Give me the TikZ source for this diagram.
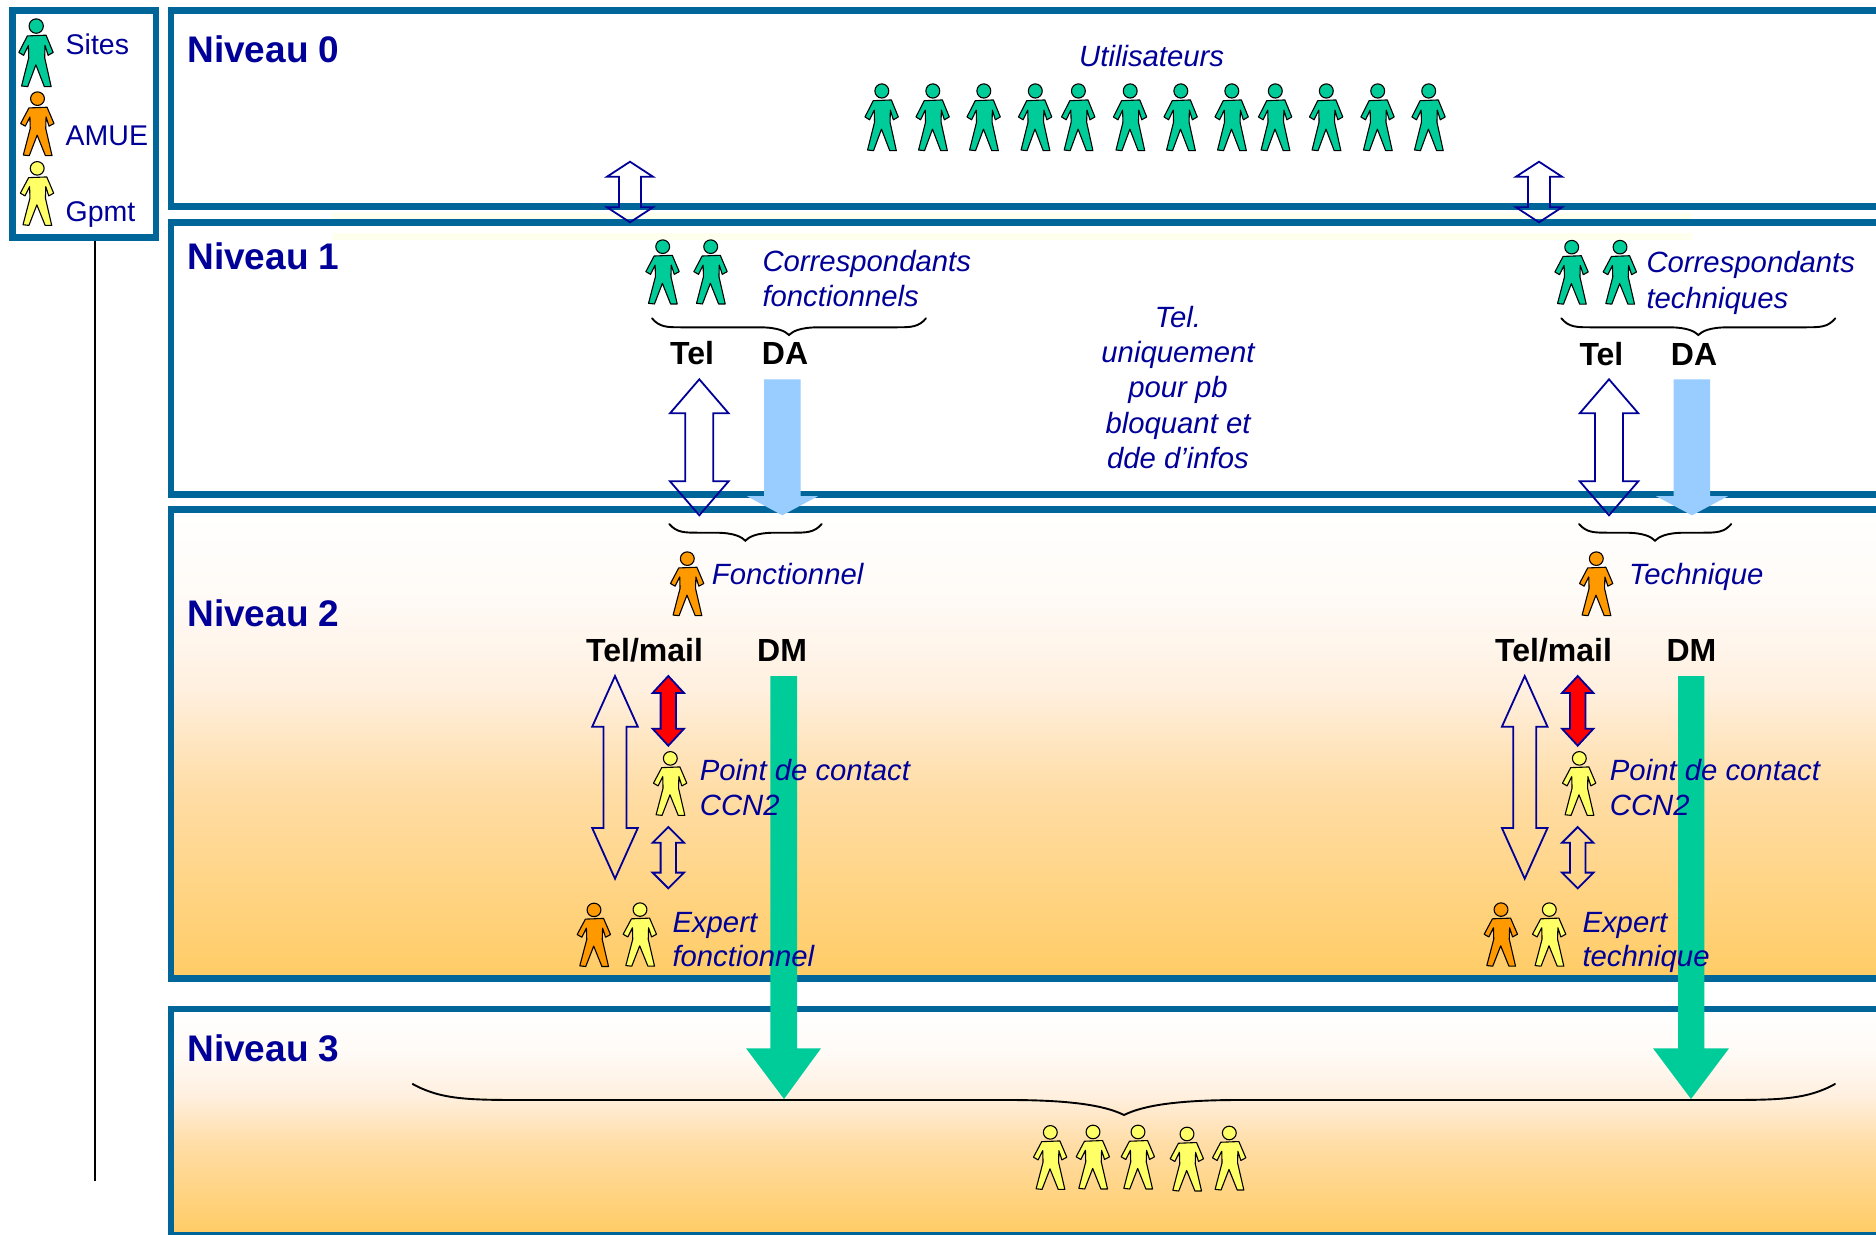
\documentclass[tikz,border=0pt]{standalone}
\usepackage{fontspec}
\setmainfont{Liberation Sans}
\definecolor{frame}{HTML}{006699}
\definecolor{navy}{HTML}{000099}
\definecolor{pgreen}{HTML}{00CC99}
\definecolor{porange}{HTML}{FF9900}
\definecolor{pyellow}{HTML}{FFFF66}
\definecolor{dablue}{HTML}{99CCFF}
\definecolor{ivory}{HTML}{FFFFEE}
\pgfdeclareverticalshading{lvlshade}{100bp}{rgb(0bp)=(1,0.8,0.4); rgb(25bp)=(1,0.8,0.4); rgb(45bp)=(1,0.866,0.65); rgb(56bp)=(1,0.94,0.875); rgb(65bp)=(1,0.98,0.96); rgb(75bp)=(1,1,1); rgb(100bp)=(1,1,1)}
\tikzset{
  panel/.style={draw=frame,line width=6.8pt},
  lvltitle/.style={anchor=base west,inner sep=0pt,text=navy,font=\fontsize{37}{44}\selectfont\bfseries},
  note/.style={anchor=base west,inner sep=0pt,text=navy,font=\fontsize{29.3}{35}\selectfont\itshape},
  legendtext/.style={anchor=base west,inner sep=0pt,text=navy,font=\fontsize{28.5}{35}\selectfont},
  channel/.style={anchor=base west,inner sep=0pt,text=black,font=\fontsize{32}{38}\selectfont\bfseries},
  hollowarrow/.style={draw=navy,line width=1.8pt,line join=miter},
  redarrow/.style={draw=navy,fill=red,line width=1.8pt,line join=miter},
  bracestroke/.style={draw=black,line width=1.9pt,line cap=round},
  figstroke/.style={draw=black,line width=1.1pt,line join=round}
}
% centre x of head, top y, width, height, colour
\newcommand{\person}[5]{%
  \begin{scope}[shift={(#1,#2)},xscale=#3,yscale=#4]
    \filldraw[figstroke,fill=#5] (0,.104) ellipse [x radius=.21,y radius=.106];
    \filldraw[figstroke,fill=#5] (-.26,.249) -- (.29,.238) -- (.5,.492) -- (.35,.534) -- (.26,.39) -- (.25,.57) -- (.44,.995) -- (.24,.995) -- (-.01,.674) -- (-.25,.995) -- (-.43,.985) -- (-.22,.57) -- (-.23,.39) -- (-.37,.534) -- (-.51,.492) -- cycle;
  \end{scope}}
% style, x, top, bottom, head half width, shaft half width, head length
\newcommand{\dblarrow}[7]{%
  \draw[#1] (#2,#3) -- ({#2+#5},{#3+#7}) -- ({#2+#6},{#3+#7}) -- ({#2+#6},{#4-#7}) -- ({#2+#5},{#4-#7}) -- (#2,#4) -- ({#2-#5},{#4-#7}) -- ({#2-#6},{#4-#7}) -- ({#2-#6},{#3+#7}) -- ({#2-#5},{#3+#7}) -- cycle;}
% colour, shaft left, shaft right, top, head y, head left, head right, tip x, tip y
\newcommand{\bigdown}[9]{%
  \fill[#1] (#2,#4) -- (#3,#4) -- (#3,#5) -- (#7,#5) -- (#8,#9) -- (#6,#5) -- (#2,#5) -- cycle;}
% left, right, tip x, y top, y mid, y tip, run
\newcommand{\curlybrace}[7]{%
  \draw[bracestroke] (#1,#4) .. controls ({#1+.25*#7},#5) and ({#1+.5*#7},#5) .. ({#1+#7},#5) -- ({#3-#7},#5) .. controls ({#3-.35*#7},#5) and ({#3-.12*#7},{#6-.45*(#6-#5)}) .. (#3,#6) .. controls ({#3+.12*#7},{#6-.45*(#6-#5)}) and ({#3+.35*#7},#5) .. ({#3+#7},#5) -- ({#2-#7},#5) .. controls ({#2-.5*#7},#5) and ({#2-.25*#7},#5) .. (#2,#4);}
\begin{document}
\begin{tikzpicture}[x=1pt,y=-1pt]
\useasboundingbox (0,0) rectangle (1876,1234);
\clip (0,0) rectangle (1876,1234);
\fill[white] (0,0) rectangle (1876,1234);
% backgrounds
\fill[ivory] (332,213) rectangle (1692,240);
\fill[white] (171,226) rectangle (1900,233);
\shade[shading=lvlshade] (171,513) rectangle (1900,975);
\shade[shading=lvlshade] (171,1012) rectangle (1900,1232);
% frames
\draw[panel] (12.5,10.8) rectangle (156,237.3);
\draw[panel] (1900,10.3) -- (171,10.3) -- (171,206.8) -- (1900,206.8);
\draw[panel] (1900,222.7) -- (171,222.7) -- (171,494.7) -- (1900,494.7);
\draw[panel] (1900,509.5) -- (171,509.5) -- (171,978.5) -- (1900,978.5);
\draw[panel] (1900,1009) -- (171,1009) -- (171,1235.5) -- (1900,1235.5);
\draw[black,line width=1.7pt] (95.3,240.7) -- (95.3,1180.7);
% level titles
\node[lvltitle] (n0) at (187.2,62) {Niveau 0};
\node[lvltitle] (n1) at (187.2,269.3) {Niveau 1};
\node[lvltitle] (n2) at (187.2,626) {Niveau 2};
\node[lvltitle] (n3) at (187.2,1061.5) {Niveau 3};
% legend
\person{36.2}{19}{34}{68}{pgreen}
\person{37.5}{92}{33}{64}{porange}
\person{37.2}{161.7}{33}{64}{pyellow}
\node[legendtext] (lsites) at (65.5,54.7) {Sites};
\node[legendtext] (lamue) at (65.5,145.3) {AMUE};
\node[legendtext] (lgpmt) at (65.5,221) {Gpmt};
% big filled arrows
\bigdown{dablue}{764}{800.7}{379.3}{496}{746.7}{818.3}{782.3}{515.3}
\bigdown{dablue}{1673.7}{1710}{379.3}{496}{1655.7}{1728.3}{1692}{515.3}
\bigdown{pgreen}{770.3}{797}{676}{1048.3}{746}{821}{784}{1099}
\bigdown{pgreen}{1678}{1704.3}{676}{1048.3}{1653}{1729}{1691}{1099}
% double arrows
\dblarrow{hollowarrow}{630}{161.7}{222.3}{23}{11}{15}
\dblarrow{hollowarrow}{1539}{161.7}{222.3}{23}{11}{15}
\dblarrow{hollowarrow}{699.3}{379.3}{515.3}{29.3}{14}{34}
\dblarrow{hollowarrow}{1609}{379.3}{515.3}{29.3}{14}{34}
\dblarrow{hollowarrow}{615}{676}{878.7}{22.8}{11.5}{50.7}
\dblarrow{hollowarrow}{1524.7}{676}{878.7}{22.8}{11.5}{50.7}
\dblarrow{redarrow}{668.3}{676}{745.7}{15.7}{7.7}{17}
\dblarrow{redarrow}{1577.7}{676}{745.7}{15.7}{7.7}{17}
\dblarrow{hollowarrow}{668.3}{827}{888.3}{15.7}{7.7}{15.7}
\dblarrow{hollowarrow}{1577.7}{827}{888.3}{15.7}{7.7}{15.7}
% braces
\curlybrace{652}{926}{789}{318.3}{327.3}{335}{30}
\curlybrace{1561.3}{1835.3}{1698.3}{318.3}{327.3}{335}{30}
\curlybrace{669.3}{821.7}{745.3}{524}{532.7}{540.7}{30}
\curlybrace{1579}{1731.3}{1655}{524}{532.7}{540.7}{30}
\curlybrace{412.7}{1835}{1124}{1084}{1100}{1115}{115}
% users
\foreach \hx in {881.8,932.8,983.8,1035.3,1078.4,1130.2,1180.8,1231.8,1275.3,1326.3,1377.7,1428.7}
  {\person{\hx}{84}{33}{67}{pgreen}}
\node[note] (users) at (1079,66) {Utilisateurs};
% level 1
\person{662.7}{240}{33}{64.3}{pgreen}
\person{710.7}{240}{33}{64.3}{pgreen}
\person{1571.7}{240.5}{33}{64}{pgreen}
\person{1620}{240.5}{33}{64}{pgreen}
\node[note] (corrf1) at (762.3,271.7) {Correspondants};
\node[note] (corrf2) at (762.3,306) {fonctionnels};
\node[note] (corrt1) at (1646.3,272.7) {Correspondants};
\node[note] (corrt2) at (1646.3,308.3) {techniques};
\node[channel] (tel1) at (670,364.7) {Tel};
\node[channel] (da1) at (761.7,364.7) {DA};
\node[channel] (tel2) at (1579.3,365.7) {Tel};
\node[channel] (da2) at (1670.7,365.7) {DA};
\node[note,anchor=center,align=center,font=\fontsize{29.3}{35.4}\selectfont\itshape] (telnote) at (1178,387.5) {Tel.\\uniquement\\pour pb\\bloquant et\\dde d’infos};
% level 2
\person{687.3}{552}{33}{64}{porange}
\person{1596.3}{552}{33}{64}{porange}
\node[note] (fonc) at (711.7,584) {Fonctionnel};
\node[note] (tech) at (1629,584) {Technique};
\node[channel] (telm1) at (586,661.7) {Tel/mail};
\node[channel] (dm1) at (757,661.7) {DM};
\node[channel] (telm2) at (1495,661.7) {Tel/mail};
\node[channel] (dm2) at (1666.3,661.7) {DM};
\person{670.3}{751.7}{33}{64}{pyellow}
\person{1579.3}{751.7}{33}{64}{pyellow}
\node[note] (pc1) at (699.7,780) {Point de contact};
\node[note] (ccn1) at (699.7,815.7) {CCN2};
\node[note] (pc2) at (1609.7,780.7) {Point de contact};
\node[note] (ccn2) at (1609.7,815.3) {CCN2};
\person{594}{903.3}{33}{63.5}{porange}
\person{640}{903}{33}{63.5}{pyellow}
\person{1501}{903}{33}{63.5}{porange}
\person{1549.3}{903}{33}{63.5}{pyellow}
\node[note] (exf1) at (672.3,932.3) {Expert};
\node[note] (exf2) at (672.3,966.7) {fonctionnel};
\node[note] (ext1) at (1582.3,932.7) {Expert};
\node[note] (ext2) at (1582.3,966.7) {technique};
% level 3
\person{1050.3}{1125.7}{33}{64}{pyellow}
\person{1093}{1125.3}{33}{64}{pyellow}
\person{1138}{1125.3}{33}{64}{pyellow}
\person{1187}{1127.3}{33}{64}{pyellow}
\person{1229.3}{1126.3}{33}{64}{pyellow}
\end{tikzpicture}
\end{document}
